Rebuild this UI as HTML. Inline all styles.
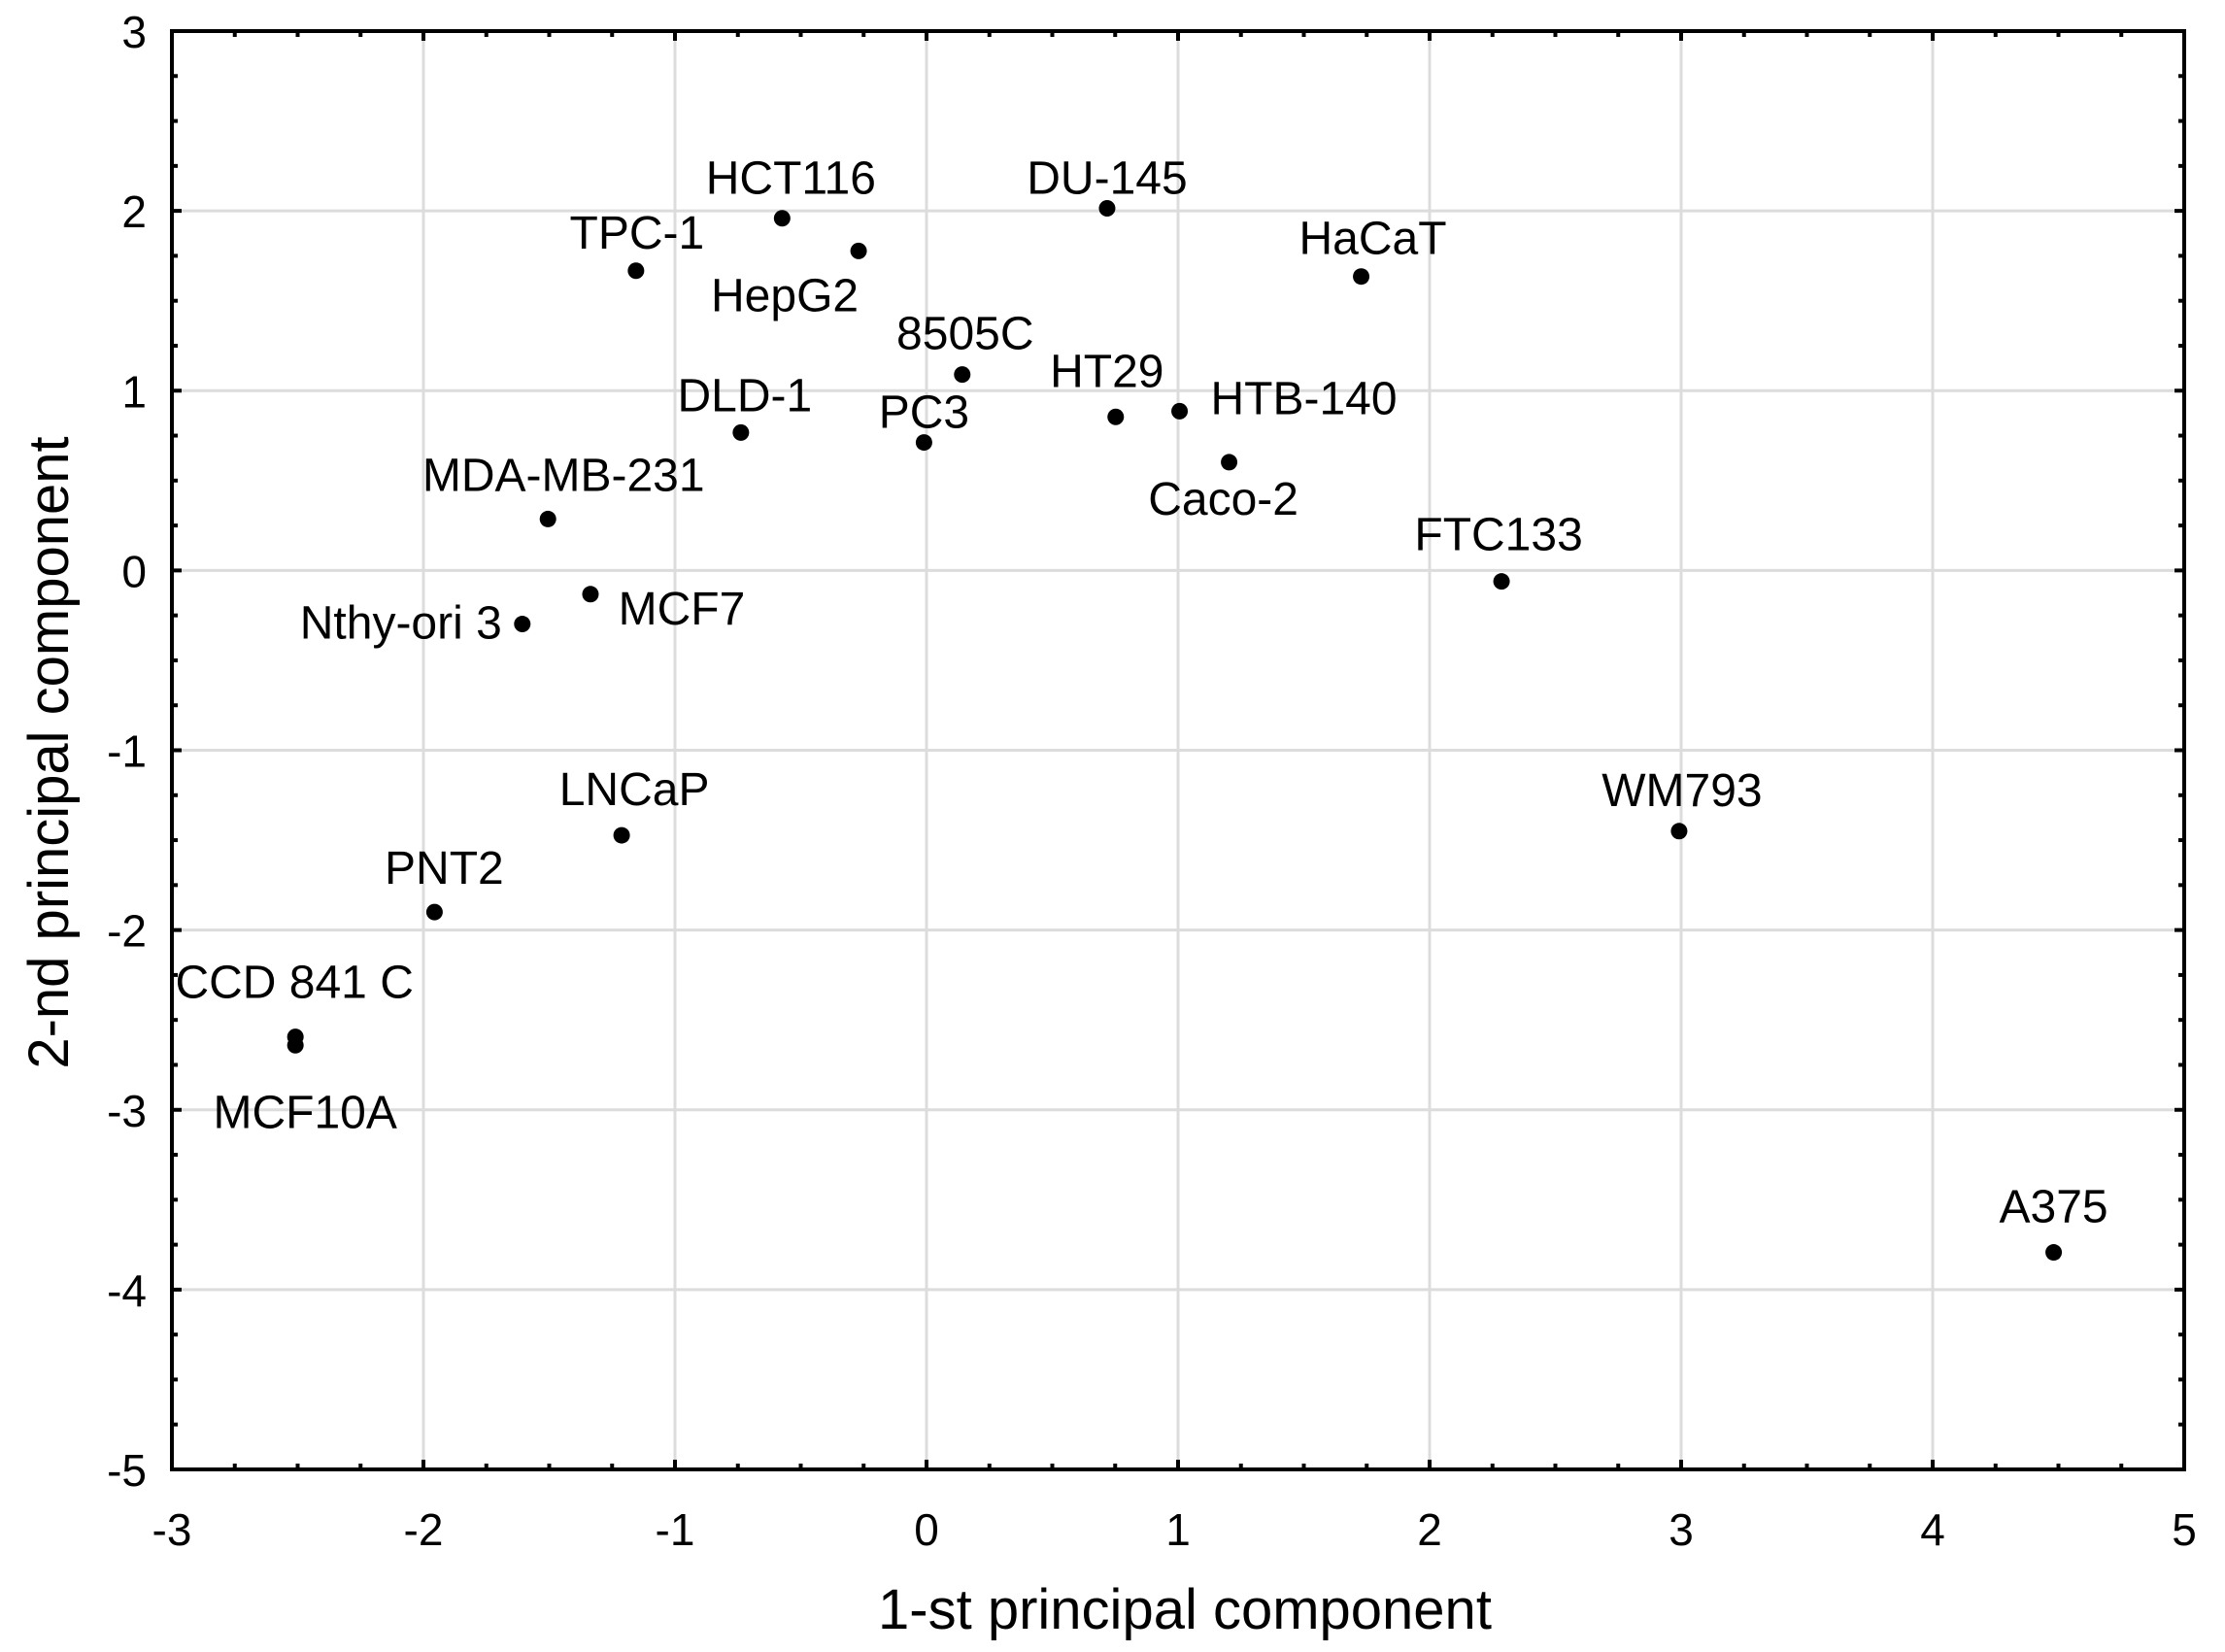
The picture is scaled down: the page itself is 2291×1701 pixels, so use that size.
<!DOCTYPE html>
<html><head><meta charset="utf-8"><style>
html,body{margin:0;padding:0;background:#fff}
svg text{font-family:"Liberation Sans",Arial,sans-serif;fill:#000}
</style></head><body>
<svg id="chart" width="2291" height="1696" viewBox="0 0 2291 1696" xmlns="http://www.w3.org/2000/svg">
<g id="grid"></g>
<g id="axes"></g>
<g id="points"></g>
<text x="1220" y="1677" font-size="58" text-anchor="middle">1-st principal component</text>
<text transform="translate(70,775) rotate(-90)" font-size="58" text-anchor="middle">2-nd principal component</text>
</svg>
<script>
const names = ["HCT116","HepG2","TPC-1","DU-145","HaCaT","8505C","PC3","DLD-1","HT29","HTB-140","Caco-2","MDA-MB-231","MCF7","Nthy-ori 3","FTC133","LNCaP","WM793","PNT2","CCD 841 C","MCF10A","A375"];
const pc1 = [-0.574,-0.27,-1.155,0.718,1.728,0.142,-0.01,-0.738,0.752,1.006,1.203,-1.505,-1.336,-1.607,2.286,-1.212,2.992,-1.956,-2.509,-2.509,4.481];
const pc2 = [1.959,1.777,1.667,2.014,1.635,1.09,0.712,0.767,0.854,0.886,0.602,0.286,-0.132,-0.298,-0.061,-1.473,-1.45,-1.9,-2.594,-2.641,-3.793];
const xTicks = [-3,-2,-1,0,1,2,3,4,5];
const yTicks = [3,2,1,0,-1,-2,-3,-4,-5];
// label offsets in px (style, not data)
const labelOffsets = [[9,-25],[-76,62],[1,-23],[0,-15],[12,-23],[3,-26],[0,-15],[4,-22],[-9,-31],[128,3],[-6,54],[16,-29],[94,31],[-125,15],[-3,-32],[13,-31],[3,-26],[10,-29],[-1,-40],[10,85],[0,-31]];

const L=177,R=2249,T=32,B=1513;
const xs=v=>L+(v+3)/8*(R-L);
const ys=v=>T+(3-v)/8*(B-T);
const NS="http://www.w3.org/2000/svg";
function mk(tag,attrs,parent){const e=document.createElementNS(NS,tag);for(const k in attrs)e.setAttribute(k,attrs[k]);parent.appendChild(e);return e;}
const grid=document.getElementById('grid'),axes=document.getElementById('axes'),pts=document.getElementById('points');
xTicks.forEach(t=>{
  const x=xs(t);
  if(t>-3&&t<5){const g=mk('line',{x1:x,x2:x,y1:T,y2:B,stroke:'#dcdcdc','stroke-width':3},grid);
  
  }
  const tx=mk('text',{x:x,y:1591,'font-size':46,'text-anchor':'middle'},axes);
  tx.textContent=t;
  
  
  mk('line',{x1:x,x2:x,y1:B,y2:B-10,stroke:'#000','stroke-width':4},axes);
  mk('line',{x1:x,x2:x,y1:T,y2:T+10,stroke:'#000','stroke-width':4},axes);
  if(t<5)for(let k=1;k<4;k++){const xm=xs(t+k/4);
    mk('line',{x1:xm,x2:xm,y1:B,y2:B-6,stroke:'#000','stroke-width':4},axes);
    mk('line',{x1:xm,x2:xm,y1:T,y2:T+6,stroke:'#000','stroke-width':4},axes);}
});
yTicks.forEach(t=>{
  const y=ys(t);
  if(t<3&&t>-5){const g=mk('line',{x1:L,x2:R,y1:y,y2:y,stroke:'#dcdcdc','stroke-width':3},grid);
  
  }
  const tx=mk('text',{x:151,y:y+17,'font-size':46,'text-anchor':'end'},axes);
  tx.textContent=t;
  
  
  mk('line',{x1:L,x2:L+10,y1:y,y2:y,stroke:'#000','stroke-width':4},axes);
  mk('line',{x1:R,x2:R-10,y1:y,y2:y,stroke:'#000','stroke-width':4},axes);
  if(t>-5)for(let k=1;k<4;k++){const ym=ys(t-k/4);
    mk('line',{x1:L,x2:L+6,y1:ym,y2:ym,stroke:'#000','stroke-width':4},axes);
    mk('line',{x1:R,x2:R-6,y1:ym,y2:ym,stroke:'#000','stroke-width':4},axes);}
});
const fr=mk('rect',{x:L,y:T,width:R-L,height:B-T,fill:'none',stroke:'#000','stroke-width':4},axes);


names.forEach((n,i)=>{
  const cx=xs(pc1[i]),cy=ys(pc2[i]);
  const c=mk('circle',{cx:cx,cy:cy,r:8.5,fill:'#000'},pts);
  
  
  const tx=mk('text',{x:cx+labelOffsets[i][0],y:cy+labelOffsets[i][1],'font-size':48,'text-anchor':'middle'},pts);
  tx.textContent=n;
  
  
});
</script>
</body></html>
